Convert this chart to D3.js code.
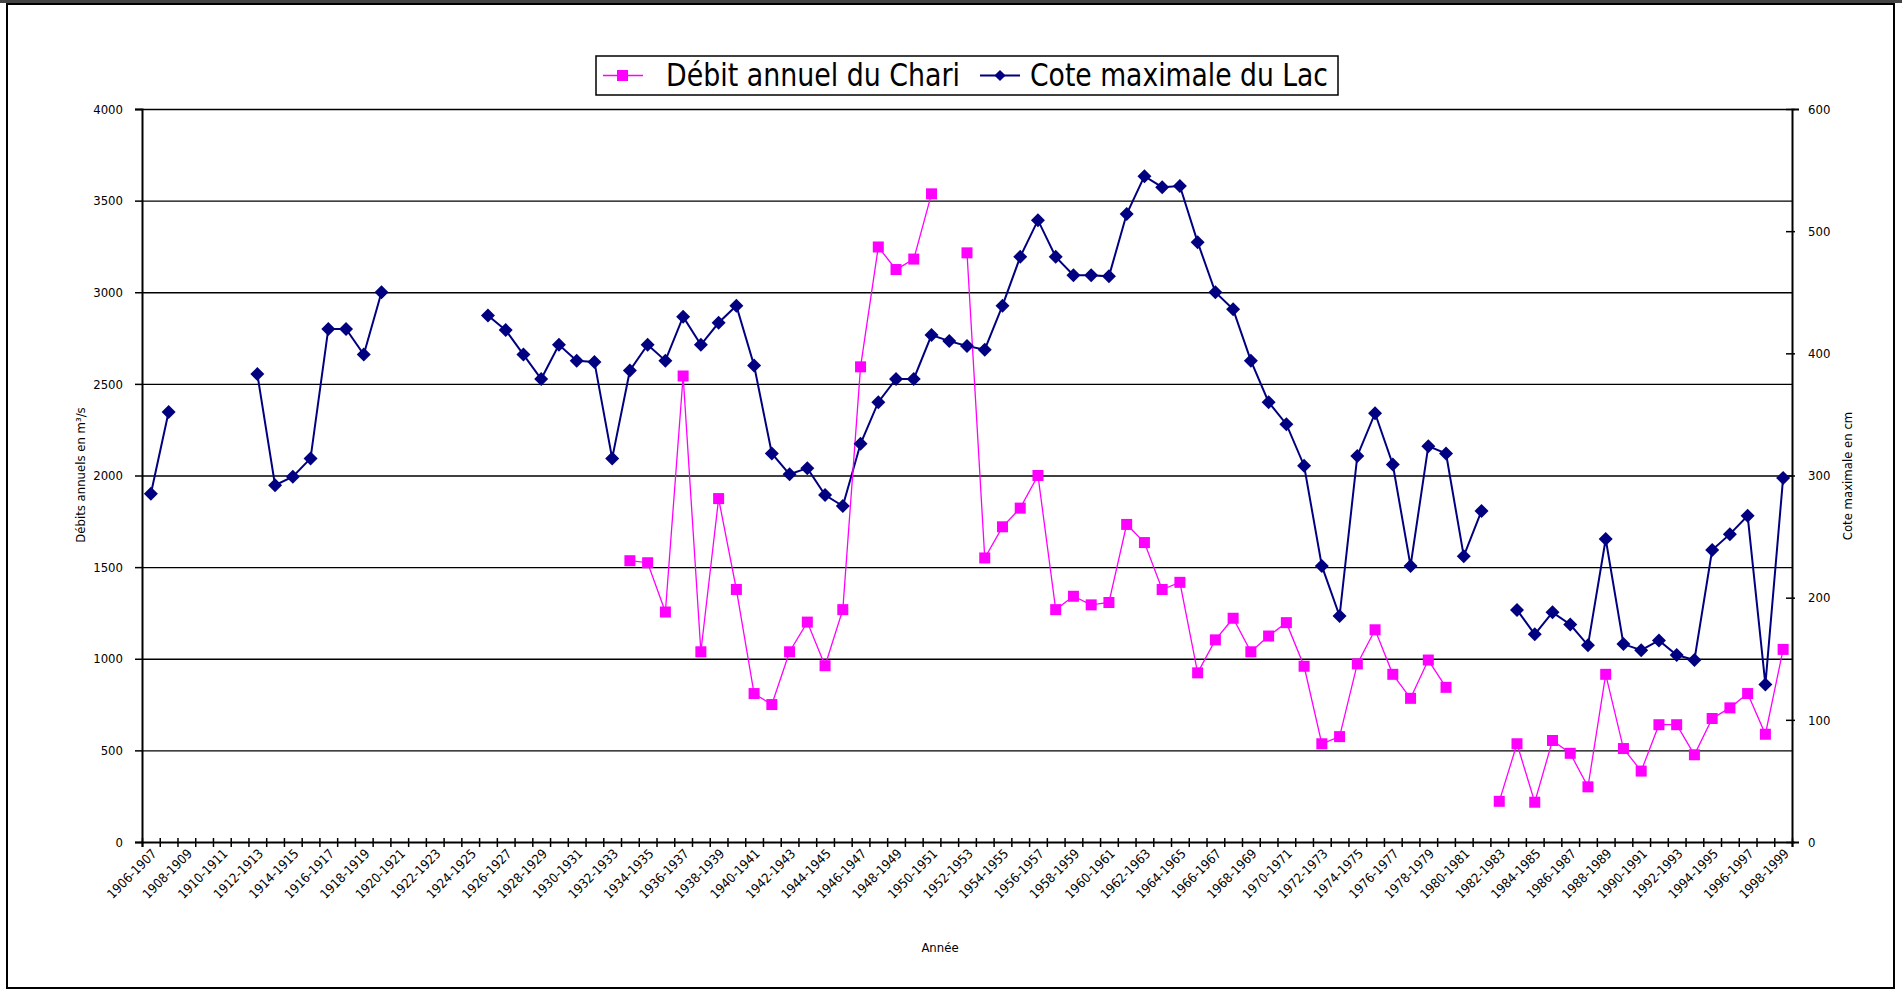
<!DOCTYPE html>
<html>
<head>
<meta charset="utf-8">
<script src="https://cdn.jsdelivr.net/npm/d3@7"></script>
<style>
body{margin:0;background:#fff;}
text{font-family:"Liberation Sans Narrow","DejaVu Sans Condensed","Arial Narrow",sans-serif;font-stretch:condensed;}
</style>
</head>
<body>
<svg id="svg" width="1902" height="993"></svg>
<script>
var categories=["1906-1907","1907-1908","1908-1909","1909-1910","1910-1911","1911-1912","1912-1913","1913-1914","1914-1915","1915-1916",
"1916-1917","1917-1918","1918-1919","1919-1920","1920-1921","1921-1922","1922-1923","1923-1924","1924-1925","1925-1926",
"1926-1927","1927-1928","1928-1929","1929-1930","1930-1931","1931-1932","1932-1933","1933-1934","1934-1935","1935-1936",
"1936-1937","1937-1938","1938-1939","1939-1940","1940-1941","1941-1942","1942-1943","1943-1944","1944-1945","1945-1946",
"1946-1947","1947-1948","1948-1949","1949-1950","1950-1951","1951-1952","1952-1953","1953-1954","1954-1955","1955-1956",
"1956-1957","1957-1958","1958-1959","1959-1960","1960-1961","1961-1962","1962-1963","1963-1964","1964-1965","1965-1966",
"1966-1967","1967-1968","1968-1969","1969-1970","1970-1971","1971-1972","1972-1973","1973-1974","1974-1975","1975-1976",
"1976-1977","1977-1978","1978-1979","1979-1980","1980-1981","1981-1982","1982-1983","1983-1984","1984-1985","1985-1986",
"1986-1987","1987-1988","1988-1989","1989-1990","1990-1991","1991-1992","1992-1993","1993-1994","1994-1995","1995-1996",
"1996-1997","1997-1998","1998-1999"];

// Débit annuel du Chari (m3/s), left axis
var chariFlow=[null,null,null,null,null,null,null,null,null,null,
null,null,null,null,null,null,null,null,null,null,
null,null,null,null,null,null,null,1535,1524,1255,
2543,1038,1874,1378,810,750,1038,1200,962,1268,
2593,3247,3124,3181,3537,null,3215,1550,1720,1822,
2000,1268,1341,1294,1307,1733,1634,1378,1417,923,
1103,1221,1038,1124,1197,959,536,575,972,1158,
915,784,993,844,null,null,222,536,217,554,
484,301,915,510,387,640,640,476,674,732,
810,588,1051];

// Cote maximale du Lac (cm), right axis
var lakeLevel=[285,352,null,null,null,null,383,292,299,314,
420,420,399,450,null,null,null,null,null,431,
419,399,379,407,394,393,314,386,407,394,
430,407,425,439,390,318,301,306,284,275,
326,360,379,379,415,410,406,403,439,479,
509,479,464,464,463,514,545,536,537,491,
450,436,394,360,342,308,226,185,316,351,
309,226,324,318,234,271,null,190,170,188,
178,161,248,162,157,165,153,149,239,252,
267,129,298];

var leftTicks=[0,500,1000,1500,2000,2500,3000,3500,4000];
var rightTicks=[0,100,200,300,400,500,600];
var seriesNames=["Débit annuel du Chari","Cote maximale du Lac"];

var svg=d3.select("#svg");
var plot={left:142,right:1792,top:109,bottom:842};
var pinkColor="#ff00ff", navyColor="#000080";
var smallFont='"Liberation Sans Narrow","DejaVu Sans Condensed","Arial Narrow",sans-serif';

// outer frame
svg.append("rect").attr("x",0).attr("y",0).attr("width",1902).attr("height",993).attr("fill","#fff");
svg.append("rect").attr("x",0).attr("y",0).attr("width",1902).attr("height",3).attr("fill","#444");
svg.append("rect").attr("x",7).attr("y",4).attr("width",1887).attr("height",984)
    .attr("fill","none").attr("stroke","#000").attr("stroke-width",2);

var xScale=d3.scaleBand().domain(categories).range([plot.left,plot.right]).padding(0);
var xIndex=d3.scaleLinear().domain([0,categories.length]).range([plot.left,plot.right]);
var yLeft=d3.scaleLinear().domain([0,4000]).range([plot.bottom,plot.top]);
var yRight=d3.scaleLinear().domain([0,600]).range([plot.bottom,plot.top]);

function cx(i){ return xScale(categories[i])+xScale.bandwidth()/2; }

// gridlines
svg.append("g").attr("class","grid")
    .attr("transform","translate("+plot.left+",0)")
    .call(d3.axisLeft(yLeft).tickValues(leftTicks.slice(1)).tickSize(-(plot.right-plot.left)).tickFormat(""))
    .call(function(g){ g.select(".domain").remove(); })
    .selectAll("line").attr("stroke","#000").attr("stroke-width",1.4);

// left axis
var yAxisL=svg.append("g")
    .attr("transform","translate("+plot.left+",0)")
    .call(d3.axisLeft(yLeft).tickValues(leftTicks).tickFormat(d3.format("d")).tickSize(7).tickPadding(12));
// right axis
var yAxisR=svg.append("g")
    .attr("transform","translate("+plot.right+",0)")
    .call(d3.axisRight(yRight).tickValues(rightTicks).tickFormat(d3.format("d")).tickSize(7).tickPadding(9));
yAxisR.selectAll(".tick line").attr("x1",-6).attr("x2",3);

// x axis tick marks at category boundaries
var xTicks=svg.append("g")
    .attr("transform","translate(0,"+plot.bottom+")")
    .call(d3.axisBottom(xIndex).tickValues(d3.range(0,categories.length+1)).tickSize(5).tickFormat(""));
xTicks.selectAll(".tick line").attr("y1",-4).attr("y2",5);

// x labels, every other category
var xLabels=svg.append("g")
    .attr("transform","translate(0,"+plot.bottom+")")
    .call(d3.axisBottom(xScale).tickValues(categories.filter(function(d,i){return i%2===0;})).tickSize(0));
xLabels.select(".domain").remove();
xLabels.selectAll("text")
    .attr("x",-4).attr("y",9).attr("dy","0.35em")
    .attr("transform","rotate(-45)")
    .style("text-anchor","end");

[yAxisL,yAxisR,xTicks].forEach(function(g){
    g.select(".domain").attr("stroke","#000").attr("stroke-width",2);
    g.selectAll(".tick line").attr("stroke","#000").attr("stroke-width",1.5);
});
svg.selectAll(".tick text").attr("font-size",13).attr("fill","#000")
    .style("font-family",smallFont);

// axis titles
svg.append("text").attr("transform","translate(85,475) rotate(-90)")
    .attr("text-anchor","middle").attr("font-size",13).text("Débits annuels en m³/s");
svg.append("text").attr("transform","translate(1852,476) rotate(-90)")
    .attr("text-anchor","middle").attr("font-size",13).text("Cote maximale en cm");
svg.append("text").attr("x",940).attr("y",952)
    .attr("text-anchor","middle").attr("font-size",13).text("Année");

// lines
var lineFlow=d3.line().defined(function(d){return d!=null;})
    .x(function(d,i){return cx(i);}).y(function(d){return yLeft(d);});
var lineLake=d3.line().defined(function(d){return d!=null;})
    .x(function(d,i){return cx(i);}).y(function(d){return yRight(d);});

svg.append("path").datum(lakeLevel).attr("d",lineLake)
    .attr("fill","none").attr("stroke",navyColor).attr("stroke-width",2);
svg.append("path").datum(chariFlow).attr("d",lineFlow)
    .attr("fill","none").attr("stroke",pinkColor).attr("stroke-width",1.3);

var diamond="M0,-7L7,0L0,7L-7,0Z";
svg.append("g").selectAll("path")
    .data(lakeLevel.map(function(d,i){return {v:d,i:i};}).filter(function(d){return d.v!=null;}))
    .enter().append("path")
    .attr("d",diamond)
    .attr("transform",function(d){return "translate("+cx(d.i)+","+yRight(d.v)+")";})
    .attr("fill",navyColor);

svg.append("g").selectAll("rect")
    .data(chariFlow.map(function(d,i){return {v:d,i:i};}).filter(function(d){return d.v!=null;}))
    .enter().append("rect")
    .attr("x",function(d){return cx(d.i)-5.5;})
    .attr("y",function(d){return yLeft(d.v)-5.5;})
    .attr("width",11).attr("height",11)
    .attr("fill",pinkColor);

// legend
var legend=svg.append("g");
legend.append("rect").attr("x",596).attr("y",56).attr("width",742).attr("height",39)
    .attr("fill","#fff").attr("stroke","#000").attr("stroke-width",1.5);
legend.append("line").attr("x1",603).attr("x2",643).attr("y1",75.5).attr("y2",75.5)
    .attr("stroke",pinkColor).attr("stroke-width",1.5);
legend.append("rect").attr("x",617).attr("y",70).attr("width",11).attr("height",11).attr("fill",pinkColor);
legend.append("text").attr("x",666).attr("y",86).attr("font-size",32)
    .attr("textLength",294).attr("lengthAdjust","spacingAndGlyphs").text(seriesNames[0]);
legend.append("line").attr("x1",980).attr("x2",1020).attr("y1",75.5).attr("y2",75.5)
    .attr("stroke",navyColor).attr("stroke-width",2);
legend.append("path").attr("d",diamond).attr("transform","translate(1000,75.5) scale(0.8)").attr("fill",navyColor);
legend.append("text").attr("x",1030).attr("y",86).attr("font-size",32)
    .attr("textLength",298).attr("lengthAdjust","spacingAndGlyphs").text(seriesNames[1]);
</script>
</body>
</html>
